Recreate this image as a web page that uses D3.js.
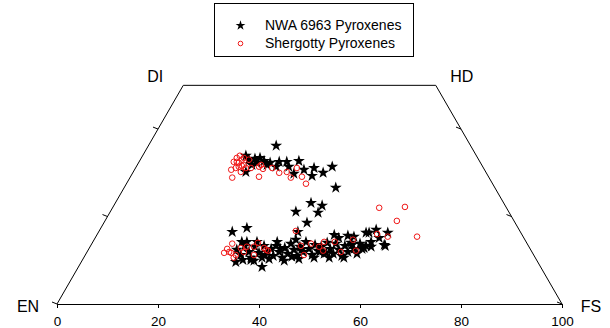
<!DOCTYPE html>
<html>
<head>
<meta charset="utf-8">
<script src="https://cdn.jsdelivr.net/npm/d3@7"></script>
<style>
  body { margin: 0; background: #fff; }
  svg { display: block; font-family: "Liberation Sans", Arial, sans-serif; }
</style>
</head>
<body>
<svg id="quad" width="610" height="328"></svg>
<script>
// [position along EN-FS axis, Wo]
var nwaPyroxenes = [
  [43.4,36.2],[37.4,33.9],[40.2,33.4],[39.2,33.2],[41.0,32.7],[44.0,32.5],[47.9,32.7],[41.6,31.8],
  [45.9,31.4],[48.9,30.7],[50.9,31.1],[54.5,31.4],[52.7,30.0],[50.5,29.3],[46.9,29.8],[37.4,30.2],
  [55.2,26.6],[43.4,31.4],[38.6,31.8],[42.2,32.3],[45.5,32.5],[39.6,32.3],[38.0,33.0],
  [50.3,23.1],[52.5,22.5],[47.3,21.1],[51.7,20.9],[49.5,18.6],[34.7,16.5],[37.6,17.4],[47.7,16.5],
  [54.9,15.8],[57.6,15.6],[61.8,16.3],[63.2,17.0],[65.5,16.3],[64.8,13.5],[62.2,13.1],[60.4,12.6],
  [36.6,14.2],[40.6,8.5],[38.4,10.1],[35.4,9.6],[62.2,14.2],[65.0,13.3],[60.8,12.8],[61.2,16.3],
  [58.4,13.5],[53.3,11.7],[46.5,10.8],
  [35.6,12.4],[36.4,11.2],[37.2,13.3],[38.0,11.9],[38.4,10.6],[39.2,13.1],[40.0,11.7],[40.6,10.6],
  [41.0,13.3],[41.6,11.9],[42.4,12.6],[42.8,11.0],[43.4,13.3],[44.0,11.9],[44.6,10.6],[45.1,12.8],
  [45.7,11.5],[46.3,13.8],[46.9,12.4],[47.5,11.0],[48.1,13.1],[48.7,11.9],[49.3,14.2],[49.9,12.6],
  [50.5,11.2],[51.1,13.5],[51.7,12.2],[52.3,13.1],[52.9,11.5],[53.5,14.0],[54.1,12.6],[54.7,11.5],
  [55.2,13.8],[55.8,12.4],[56.4,11.0],[57.0,13.3],[57.6,11.9],[58.2,14.0],[58.8,12.6],[59.4,11.5],
  [60.0,13.8],[61.2,13.3],[36.8,10.1],[39.0,9.9],[42.0,10.3],[45.0,9.9],[47.9,10.3],[50.9,10.6],
  [53.9,10.6],[56.8,10.6],[37.6,14.2],[39.6,14.2],[43.6,14.2],[47.3,14.7],[55.8,15.1],[58.8,15.4],
  [63.8,15.1],[44.2,12.6],[48.4,12.4],[41.2,11.2],[52.0,11.9]
];

var shergottyPyroxenes = [
  [34.5,30.7],[34.7,28.9],[35.0,32.5],[35.6,33.4],[36.2,33.9],[36.6,33.0],[36.0,31.4],[36.4,30.2],
  [37.0,31.8],[37.4,31.1],[35.4,31.1],[38.0,33.0],[38.4,31.1],[40.0,31.4],[40.4,31.8],[40.8,30.9],
  [40.0,29.1],[42.6,31.1],[44.0,30.0],[45.5,30.2],[46.3,28.9],[47.5,31.1],[48.5,29.1],[49.3,27.5],
  [35.6,32.5],[37.0,33.4],[36.0,32.3],[36.6,31.6],
  [63.8,22.0],[68.9,22.2],[67.3,19.0],[71.3,15.4],[65.5,15.4],[63.4,16.0],[47.3,16.7],[58.6,14.7],
  [55.0,14.2],[52.9,14.2],[50.3,13.8],[48.3,13.3],[56.2,11.9],[59.2,12.2],[51.9,13.1],[52.7,12.2],
  [48.9,11.2],[39.8,14.0],[39.0,11.2],[41.4,12.4],[41.8,12.2],[37.6,13.1],[36.4,12.8],[34.7,13.8],
  [33.7,12.6],[33.1,11.7],[34.5,11.7],[35.0,10.6],[35.4,11.2],[37.0,11.9],[39.0,13.1],[34.1,11.9],
  [41.0,12.8]
];

var axisTicks = [0, 20, 40, 60, 80, 100];
var sideTicks = [0, 20, 40];
var cornerLabels = [
  {name: "EN", pos: 0, wo: 0},
  {name: "FS", pos: 100, wo: 0},
  {name: "DI", pos: 25, wo: 50},
  {name: "HD", pos: 75, wo: 50}
];
var seriesNames = ["NWA 6963 Pyroxenes", "Shergotty Pyroxenes"];

var svg = d3.select("#quad");

var x = d3.scaleLinear().domain([0, 100]).range([57, 562]);
var unit = (x(100) - x(0)) / 100;
var y = d3.scaleLinear().domain([0, 50]).range([304, 304 - 50 * unit * Math.sqrt(3) / 2]);

// quadrilateral outline
var outline = [[0, 0], [25, 50], [75, 50], [100, 0]];
svg.append("path")
    .attr("d", d3.line().x(d => x(d[0])).y(d => y(d[1]))(outline))
    .attr("fill", "none")
    .attr("stroke", "#000")
    .attr("stroke-width", 1);

// bottom axis
svg.append("g")
    .attr("transform", "translate(0," + y(0) + ")")
    .call(d3.axisBottom(x).tickValues(axisTicks).tickSize(4).tickPadding(8).tickFormat(d3.format("d")))
    .call(g => g.selectAll("text").attr("font-size", 13.5).attr("font-family", "Liberation Sans, Arial, sans-serif").attr("fill", "#000"))
    .call(g => g.selectAll("line, path").attr("stroke", "#000"));

// side ticks (Wo) on both sloping edges
var sidePts = [];
sideTicks.forEach(w => {
  sidePts.push([w / 2, w]);
  sidePts.push([100 - w / 2, w]);
});
svg.selectAll(".sidetick")
    .data(sidePts)
    .join("line")
    .attr("x1", d => x(d[0]))
    .attr("x2", d => x(d[0]) - 5)
    .attr("y1", d => y(d[1]))
    .attr("y2", d => y(d[1]) - 2)
    .attr("stroke", "#000");

// corner labels
var labelOffset = {EN: [-29, 2], FS: [29, 2], DI: [-28, -9], HD: [26, -9]};
svg.selectAll(".corner")
    .data(cornerLabels)
    .join("text")
    .attr("x", d => x(d.pos) + labelOffset[d.name][0])
    .attr("y", d => y(d.wo) + labelOffset[d.name][1])
    .attr("dy", "0.35em")
    .attr("text-anchor", "middle")
    .attr("font-size", 16)
    .text(d => d.name);

var star = d3.symbol().type(d3.symbolStar).size(44);

svg.append("g").selectAll("path")
    .data(nwaPyroxenes)
    .join("path")
    .attr("transform", d => "translate(" + x(d[0]) + "," + y(d[1]) + ")")
    .attr("d", star)
    .attr("fill", "#000");

svg.append("g").selectAll("circle")
    .data(shergottyPyroxenes)
    .join("circle")
    .attr("cx", d => x(d[0]))
    .attr("cy", d => y(d[1]))
    .attr("r", 2.8)
    .attr("fill", "none")
    .attr("stroke", "#f01818")
    .attr("stroke-width", 1);

// legend
var legend = svg.append("g");
legend.append("rect")
    .attr("x", 214.5).attr("y", 3.5)
    .attr("width", 199).attr("height", 53)
    .attr("fill", "#fff").attr("stroke", "#000");
legend.append("path")
    .attr("transform", "translate(240.5,25.5)")
    .attr("d", d3.symbol().type(d3.symbolStar).size(30))
    .attr("fill", "#000");
legend.append("circle")
    .attr("cx", 240.5).attr("cy", 43.5).attr("r", 2.3)
    .attr("fill", "none").attr("stroke", "#f01818");
legend.selectAll("text")
    .data(seriesNames)
    .join("text")
    .attr("x", 265)
    .attr("y", (d, i) => 25.5 + i * 18)
    .attr("dy", "0.35em")
    .attr("font-size", 14)
    .text(d => d);
</script>
</body>
</html>
